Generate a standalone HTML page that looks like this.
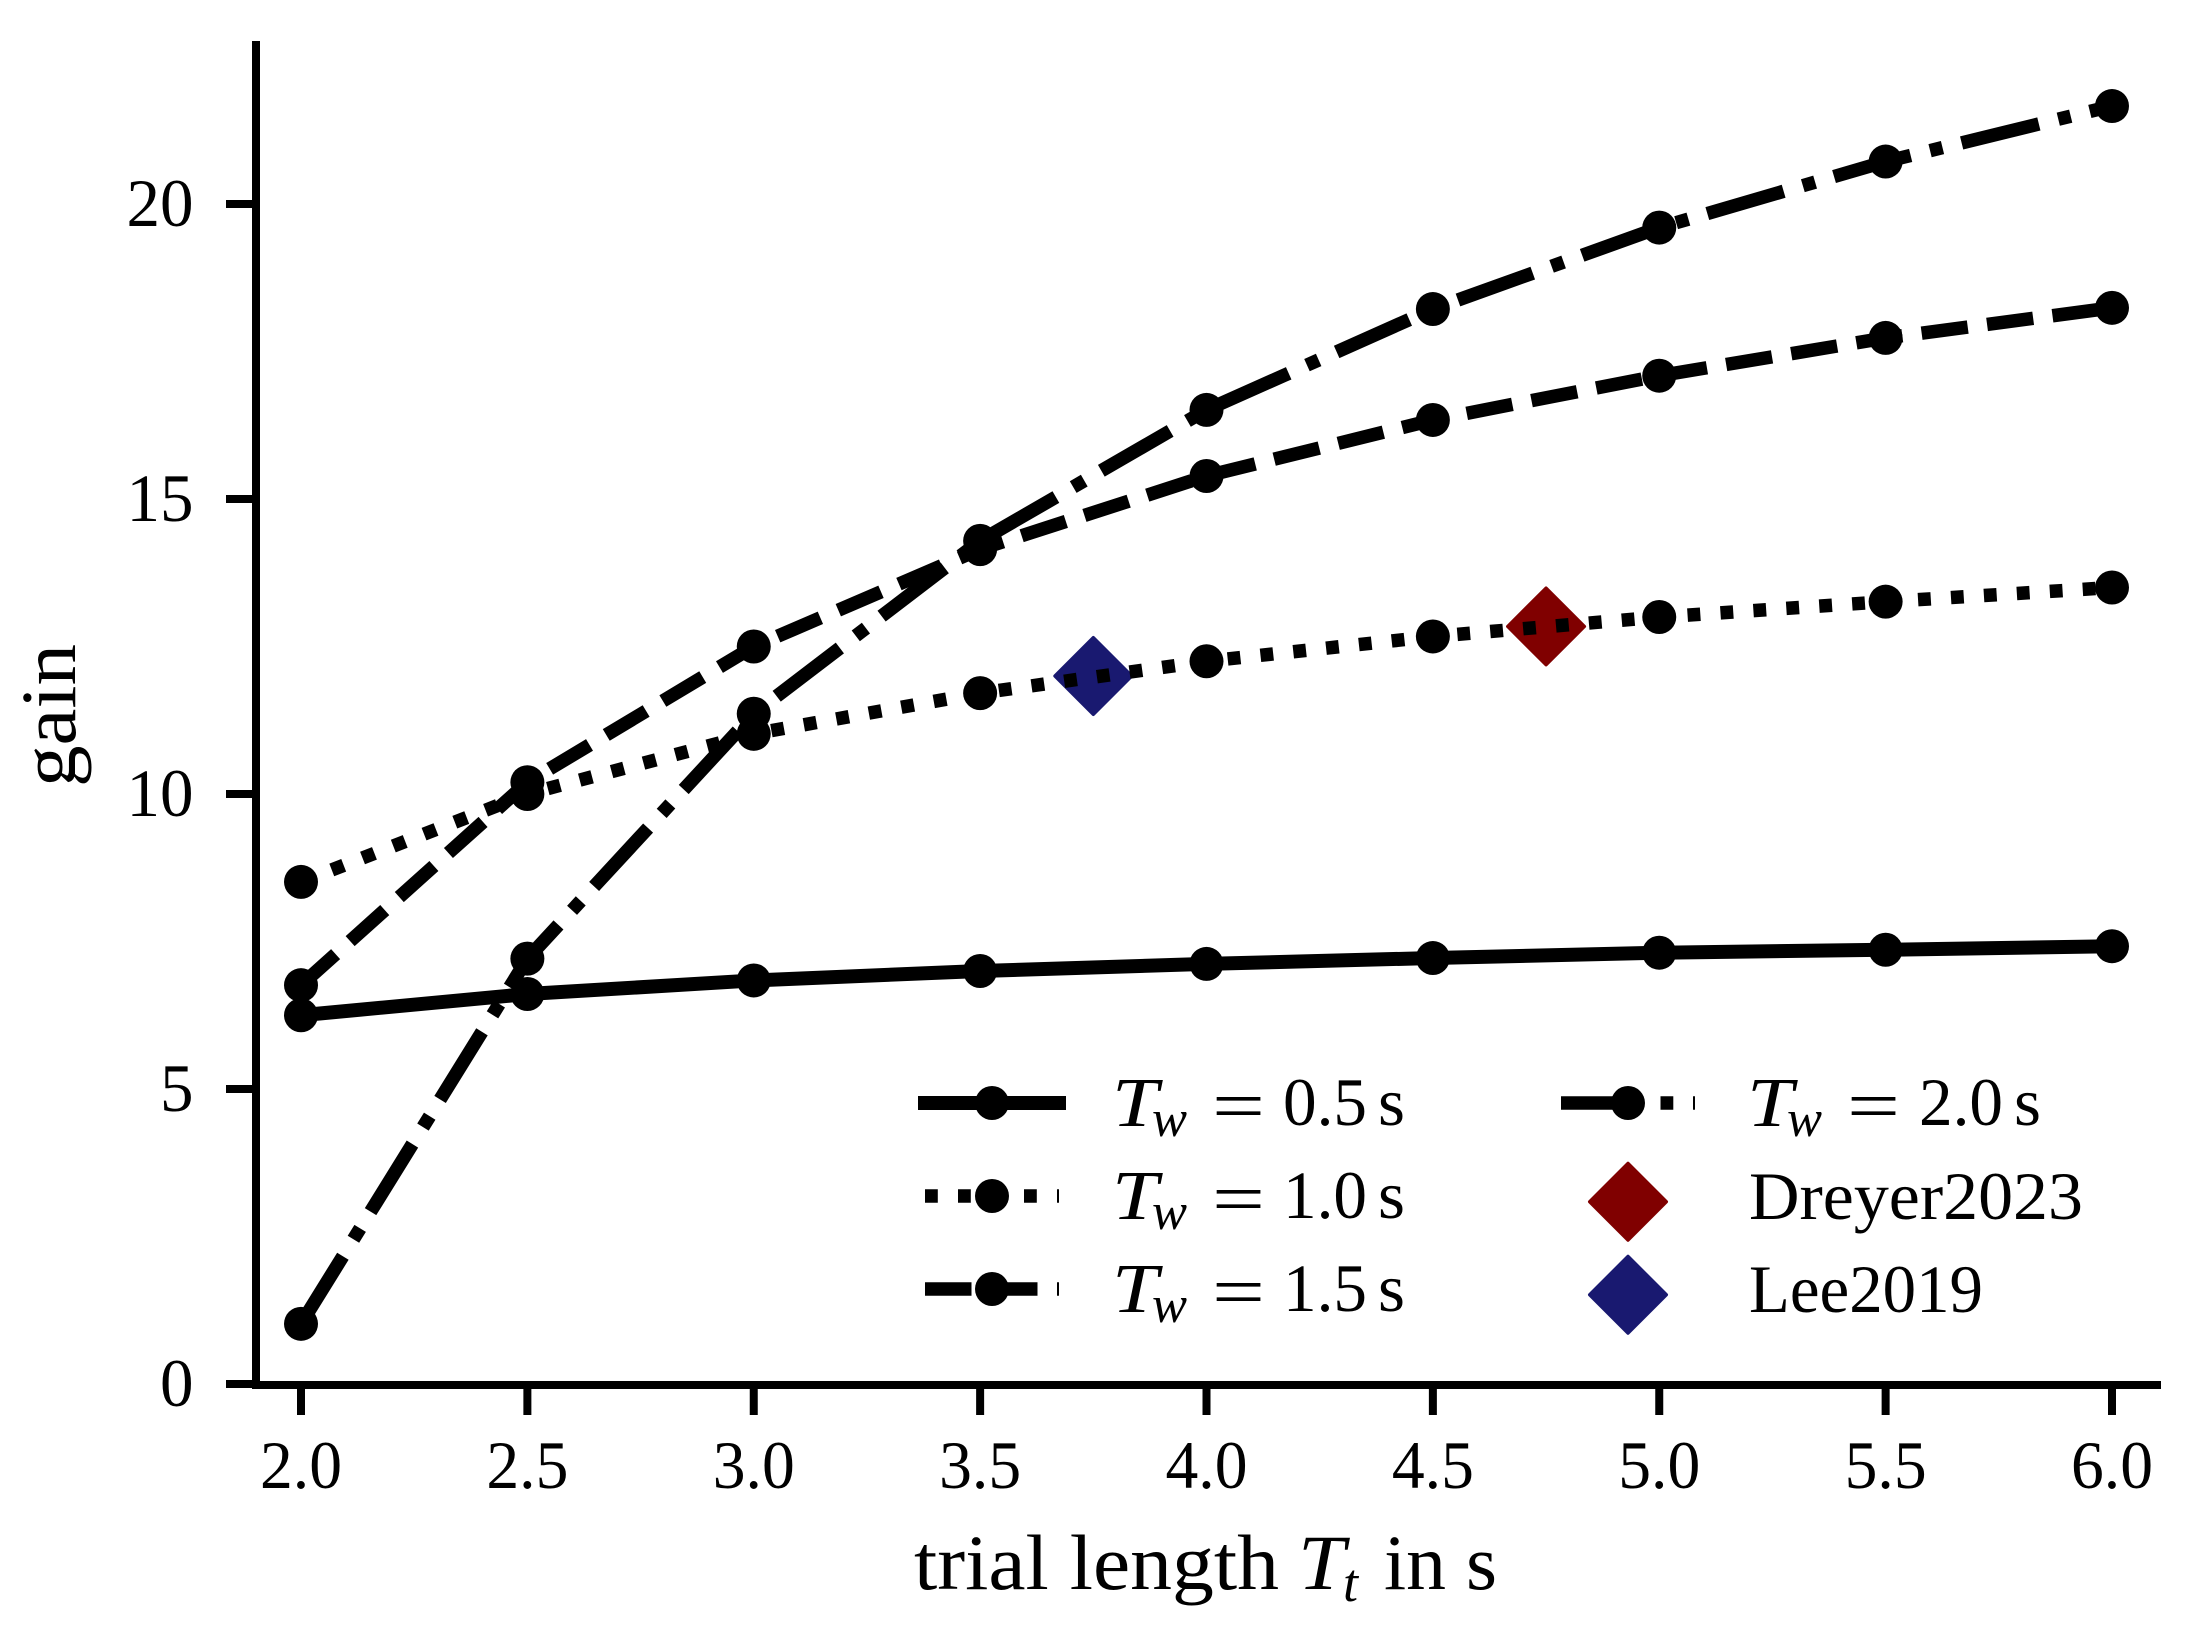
<!DOCTYPE html>
<html lang="en">
<head>
<meta charset="utf-8">
<title>Gain versus trial length</title>
<style>
  html, body { margin: 0; padding: 0; background: #ffffff; }
  svg { display: block; }
  text { font-family: "Liberation Serif", "DejaVu Serif", serif; fill: #000000; }
  .it { font-style: italic; }
</style>
</head>
<body>
<svg id="chart" xmlns="http://www.w3.org/2000/svg" width="2208" height="1643" viewBox="0 0 2208 1643">
  <rect x="0" y="0" width="2208" height="1643" fill="#ffffff"/>
  <g id="marks"></g>
  <g id="axes">
    <rect x="252" y="41" width="8" height="1348" fill="#000"/>
    <rect x="252" y="1381" width="1909" height="8" fill="#000"/>
  </g>
  <g id="x-tick-group"></g>
  <g id="y-tick-group"></g>

  <g>
    <text x="914" y="1589" font-size="78" textLength="365" lengthAdjust="spacingAndGlyphs">trial length</text>
    <text class="it" x="1298" y="1589" font-size="78" textLength="47" lengthAdjust="spacingAndGlyphs">T</text>
    <text class="it" x="1343" y="1601" font-size="54">t</text>
    <text x="1384" y="1589" font-size="78" textLength="113" lengthAdjust="spacingAndGlyphs">in s</text>
  </g>
  <text transform="translate(75 787) rotate(-90)" x="0" y="0" font-size="78" textLength="143" lengthAdjust="spacingAndGlyphs">gain</text>

  <g>
    <g>
      <line x1="925" x2="1059" y1="1103" y2="1103" stroke="#000" stroke-width="14" stroke-linecap="square"/>
      <circle cx="992" cy="1103" r="17" fill="#000"/>
      <text class="it" x="1112" y="1126" font-size="70" textLength="46" lengthAdjust="spacingAndGlyphs">T</text>
      <text class="it" x="1152" y="1136" font-size="52" textLength="35" lengthAdjust="spacingAndGlyphs">w</text>
      <text x="1212" y="1130" font-size="72" textLength="53" lengthAdjust="spacingAndGlyphs">=</text>
      <text x="1283" y="1125" font-size="68" textLength="84" lengthAdjust="spacingAndGlyphs">0.5</text>
      <text x="1378" y="1125" font-size="68" textLength="27" lengthAdjust="spacingAndGlyphs">s</text>
    </g>
    <g>
      <line x1="925" x2="1059" y1="1196" y2="1196" stroke="#000" stroke-width="13.5" stroke-dasharray="12.8 20.2"/>
      <circle cx="992" cy="1196" r="17" fill="#000"/>
      <text class="it" x="1112" y="1219" font-size="70" textLength="46" lengthAdjust="spacingAndGlyphs">T</text>
      <text class="it" x="1152" y="1229" font-size="52" textLength="35" lengthAdjust="spacingAndGlyphs">w</text>
      <text x="1212" y="1223" font-size="72" textLength="53" lengthAdjust="spacingAndGlyphs">=</text>
      <text x="1283" y="1218" font-size="68" textLength="84" lengthAdjust="spacingAndGlyphs">1.0</text>
      <text x="1378" y="1218" font-size="68" textLength="27" lengthAdjust="spacingAndGlyphs">s</text>
    </g>
    <g>
      <line x1="925" x2="1059" y1="1289" y2="1289" stroke="#000" stroke-width="13.5" stroke-dasharray="46.5 19.5"/>
      <circle cx="992" cy="1289" r="17" fill="#000"/>
      <text class="it" x="1112" y="1312" font-size="70" textLength="46" lengthAdjust="spacingAndGlyphs">T</text>
      <text class="it" x="1152" y="1322" font-size="52" textLength="35" lengthAdjust="spacingAndGlyphs">w</text>
      <text x="1212" y="1316" font-size="72" textLength="53" lengthAdjust="spacingAndGlyphs">=</text>
      <text x="1283" y="1311" font-size="68" textLength="84" lengthAdjust="spacingAndGlyphs">1.5</text>
      <text x="1378" y="1311" font-size="68" textLength="27" lengthAdjust="spacingAndGlyphs">s</text>
    </g>
    <g>
      <line x1="1561" x2="1695" y1="1103" y2="1103" stroke="#000" stroke-width="13.5" stroke-dasharray="79.5 20 12.8 19.7"/>
      <circle cx="1628" cy="1103" r="17" fill="#000"/>
      <text class="it" x="1747" y="1126" font-size="70" textLength="46" lengthAdjust="spacingAndGlyphs">T</text>
      <text class="it" x="1787" y="1136" font-size="52" textLength="35" lengthAdjust="spacingAndGlyphs">w</text>
      <text x="1847" y="1130" font-size="72" textLength="53" lengthAdjust="spacingAndGlyphs">=</text>
      <text x="1919" y="1125" font-size="68" textLength="84" lengthAdjust="spacingAndGlyphs">2.0</text>
      <text x="2014" y="1125" font-size="68" textLength="27" lengthAdjust="spacingAndGlyphs">s</text>
    </g>
    <g>
      <polygon points="1628,1163.5 1666.25,1201.75 1628,1240 1589.75,1201.75" fill="#800000" stroke="#800000" stroke-width="3.5" stroke-linejoin="round"/>
      <text x="1749" y="1219" font-size="68" textLength="334" lengthAdjust="spacingAndGlyphs">Dreyer2023</text>
    </g>
    <g>
      <polygon points="1628,1256.5 1666.25,1294.75 1628,1333 1589.75,1294.75" fill="#191970" stroke="#191970" stroke-width="3.5" stroke-linejoin="round"/>
      <text x="1749" y="1312" font-size="68" textLength="234" lengthAdjust="spacingAndGlyphs">Lee2019</text>
    </g>
  </g>
</svg>

<script>
var trialLengths = [2.0, 2.5, 3.0, 3.5, 4.0, 4.5, 5.0, 5.5, 6.0];
var gainTw05 = [6.25, 6.61, 6.84, 7.0, 7.12, 7.22, 7.31, 7.36, 7.42];
var gainTw10 = [8.51, 10.0, 11.02, 11.71, 12.25, 12.67, 13.0, 13.26, 13.5];
var gainTw15 = [6.76, 10.2, 12.5, 14.15, 15.39, 16.34, 17.09, 17.73, 18.24];
var gainTw20 = [1.02, 7.21, 11.36, 14.29, 16.51, 18.22, 19.6, 20.72, 21.66];
var seriesNames = ['tw-0-5', 'tw-1-0', 'tw-1-5', 'tw-2-0'];
var seriesDashes = ['none', '12.8 20.2', '46.5 19.5', '79.5 20 12.8 19.7'];
var seriesWidths = [14, 13.5, 13.5, 13.5];
var studyNames = ['lee2019', 'dreyer2023'];
var studyTrialLengths = [3.75, 4.75];
var studyGains = [12.0, 12.84];
var studyColors = ['#191970', '#800000'];
var xTickValues = [2.0, 2.5, 3.0, 3.5, 4.0, 4.5, 5.0, 5.5, 6.0];
var xTickLabels = ['2.0', '2.5', '3.0', '3.5', '4.0', '4.5', '5.0', '5.5', '6.0'];
var yTickValues = [0, 5, 10, 15, 20];
var yTickLabels = ['0', '5', '10', '15', '20'];

var SVG_NS = 'http://www.w3.org/2000/svg';

function xScale(v) { return 301 + (v - 2) * 452.75; }
function yScale(v) { return 1384 - v * 59; }
function make(tag, parent) {
  var el = document.createElementNS(SVG_NS, tag);
  parent.appendChild(el);
  return el;
}

var marks = document.getElementById('marks');
var xTickGroup = document.getElementById('x-tick-group');
var yTickGroup = document.getElementById('y-tick-group');
var allSeries = [gainTw05, gainTw10, gainTw15, gainTw20];

// Reference study diamonds sit beneath the series lines.
studyNames.forEach(function (name, i) {
  var cx = xScale(studyTrialLengths[i]);
  var cy = yScale(studyGains[i]);
  var h = 38.25;
  var el = make('polygon', marks);
  
  
  el.setAttribute('points', [cx, cy - h, cx + h, cy, cx, cy + h, cx - h, cy].join(' '));
  el.setAttribute('fill', studyColors[i]);
  el.setAttribute('stroke', studyColors[i]);
  el.setAttribute('stroke-width', '3.5');
  el.setAttribute('stroke-linejoin', 'round');
});

allSeries.forEach(function (values, s) {
  var pts = values.map(function (v, i) { return xScale(trialLengths[i]) + ',' + yScale(v); }).join(' ');
  var line = make('polyline', marks);
  
  
  line.setAttribute('points', pts);
  line.setAttribute('fill', 'none');
  line.setAttribute('stroke', '#000');
  line.setAttribute('stroke-width', String(seriesWidths[s]));
  line.setAttribute('stroke-linejoin', 'round');
  if (seriesDashes[s] !== 'none') { line.setAttribute('stroke-dasharray', seriesDashes[s]); }
  values.forEach(function (v, i) {
    var dot = make('circle', marks);
    
    
    dot.setAttribute('cx', xScale(trialLengths[i]));
    dot.setAttribute('cy', yScale(v));
    dot.setAttribute('r', '17');
    dot.setAttribute('fill', '#000');
  });
});

xTickValues.forEach(function (v, i) {
  var tick = make('rect', xTickGroup);
  
  
  tick.setAttribute('x', xScale(v) - 4);
  tick.setAttribute('y', '1389');
  tick.setAttribute('width', '8');
  tick.setAttribute('height', '26');
  tick.setAttribute('fill', '#000');
  var label = make('text', xTickGroup);
  
  
  label.setAttribute('x', xScale(v));
  label.setAttribute('y', '1488');
  label.setAttribute('font-size', '68');
  label.setAttribute('text-anchor', 'middle');
  label.setAttribute('textLength', '82');
  label.setAttribute('lengthAdjust', 'spacingAndGlyphs');
  label.textContent = xTickLabels[i];
});

yTickValues.forEach(function (v, i) {
  var tick = make('rect', yTickGroup);
  
  
  tick.setAttribute('x', '226');
  tick.setAttribute('y', yScale(v) - 4);
  tick.setAttribute('width', '26');
  tick.setAttribute('height', '8');
  tick.setAttribute('fill', '#000');
  var label = make('text', yTickGroup);
  
  
  label.setAttribute('x', '193.5');
  label.setAttribute('y', yScale(v) + 22);
  label.setAttribute('font-size', '68');
  label.setAttribute('text-anchor', 'end');
  label.setAttribute('textLength', String(yTickLabels[i].length * 33.5));
  label.setAttribute('lengthAdjust', 'spacingAndGlyphs');
  label.textContent = yTickLabels[i];
});
</script>
</body>
</html>
